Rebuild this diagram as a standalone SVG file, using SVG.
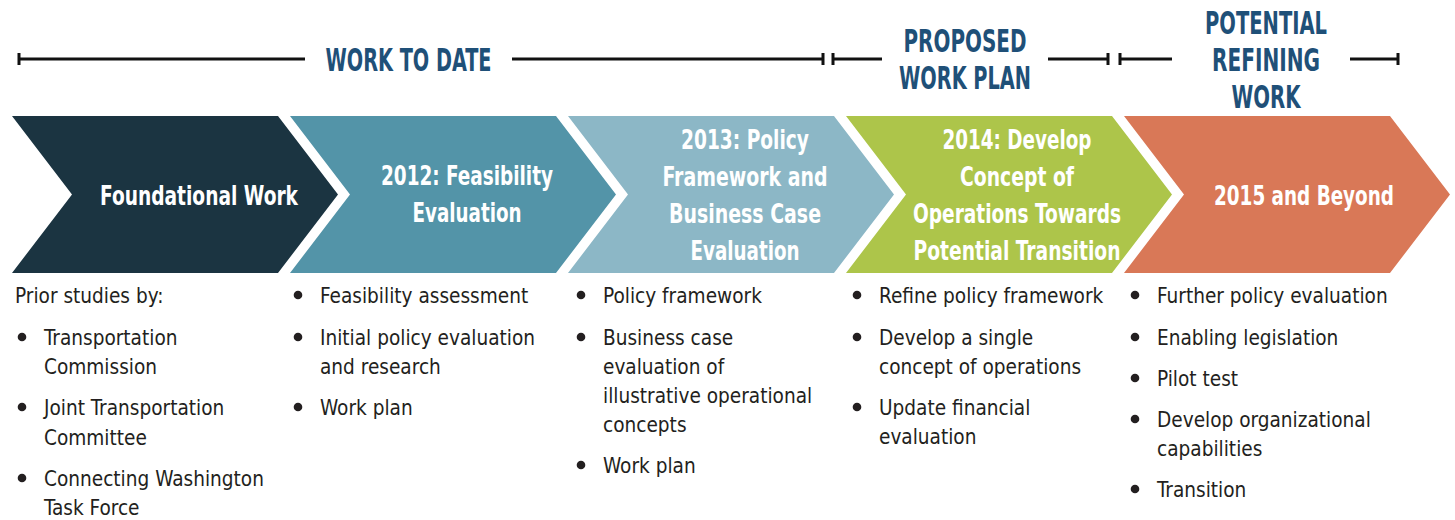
<svg xmlns="http://www.w3.org/2000/svg" width="1455" height="520" viewBox="0 0 1455 520">
<style>
.hdr{font-family:"Liberation Sans Narrow","DejaVu Sans Condensed","Liberation Sans",sans-serif;font-weight:bold;font-size:32px;fill:#1f5078;text-anchor:middle}
.ttl{font-family:"Liberation Sans Narrow","DejaVu Sans Condensed","Liberation Sans",sans-serif;font-weight:bold;font-size:26px;fill:#ffffff;text-anchor:middle}
.body{font-family:"DejaVu Sans Condensed","DejaVu Sans",sans-serif;font-size:20.6px;fill:#231f20}
.dot{fill:#231f20}
.tl{stroke:#111111;stroke-width:3;fill:none}
.c1{fill:#1b3441}.c2{fill:#5394a8}.c3{fill:#8cb7c6}.c4{fill:#adc54a}.c5{fill:#d97857}
</style>
<rect width="1455" height="520" fill="#ffffff"/>
<g id="timeline">
<path class="tl" d="M19 59H305M19 53V65"/>
<path class="tl" d="M512 59H823M823 53V65"/>
<path class="tl" d="M833 59H882M833 53V65"/>
<path class="tl" d="M1048 59H1108M1108 53V65"/>
<path class="tl" d="M1120 59H1172M1120 53V65"/>
<path class="tl" d="M1350 59H1398M1398 53V65"/>
<text class="hdr" x="408.5" y="71" textLength="166" lengthAdjust="spacingAndGlyphs">WORK TO DATE</text>
<text class="hdr" x="965" y="52" textLength="123" lengthAdjust="spacingAndGlyphs">PROPOSED</text>
<text class="hdr" x="965" y="89" textLength="132" lengthAdjust="spacingAndGlyphs">WORK PLAN</text>
<text class="hdr" x="1266" y="34" textLength="122" lengthAdjust="spacingAndGlyphs">POTENTIAL</text>
<text class="hdr" x="1266" y="71" textLength="108" lengthAdjust="spacingAndGlyphs">REFINING</text>
<text class="hdr" x="1266" y="108" textLength="69" lengthAdjust="spacingAndGlyphs">WORK</text>
</g>
<g id="foundational">
<polygon class="c1" points="12,116 278,116 338,194.5 278,273 12,273 72,194.5"/>
<text class="ttl" x="199" y="205" textLength="198" lengthAdjust="spacingAndGlyphs">Foundational Work</text>
<text class="body" x="15" y="303">Prior studies by:</text>
<circle class="dot" cx="22" cy="337" r="4.3"/>
<text class="body" x="44" y="345">Transportation</text>
<text class="body" x="44" y="374">Commission</text>
<circle class="dot" cx="22" cy="407" r="4.3"/>
<text class="body" x="44" y="415">Joint Transportation</text>
<text class="body" x="44" y="445">Committee</text>
<circle class="dot" cx="22" cy="478" r="4.3"/>
<text class="body" x="44" y="486">Connecting Washington</text>
<text class="body" x="44" y="515">Task Force</text>
</g>
<g id="feasibility">
<polygon class="c2" points="290,116 556,116 616,194.5 556,273 290,273 350,194.5"/>
<text class="ttl" x="467" y="185" textLength="172" lengthAdjust="spacingAndGlyphs">2012: Feasibility</text>
<text class="ttl" x="467" y="222" textLength="109" lengthAdjust="spacingAndGlyphs">Evaluation</text>
<circle class="dot" cx="298" cy="295" r="4.3"/>
<text class="body" x="320" y="303">Feasibility assessment</text>
<circle class="dot" cx="298" cy="337" r="4.3"/>
<text class="body" x="320" y="345">Initial policy evaluation</text>
<text class="body" x="320" y="374">and research</text>
<circle class="dot" cx="298" cy="407" r="4.3"/>
<text class="body" x="320" y="415">Work plan</text>
</g>
<g id="policy">
<polygon class="c3" points="568,116 834,116 894,194.5 834,273 568,273 628,194.5"/>
<text class="ttl" x="745" y="149" textLength="128" lengthAdjust="spacingAndGlyphs">2013: Policy</text>
<text class="ttl" x="745" y="186" textLength="165" lengthAdjust="spacingAndGlyphs">Framework and</text>
<text class="ttl" x="745" y="223" textLength="152" lengthAdjust="spacingAndGlyphs">Business Case</text>
<text class="ttl" x="745" y="260" textLength="109" lengthAdjust="spacingAndGlyphs">Evaluation</text>
<circle class="dot" cx="581" cy="295" r="4.3"/>
<text class="body" x="603" y="303">Policy framework</text>
<circle class="dot" cx="581" cy="337" r="4.3"/>
<text class="body" x="603" y="345">Business case</text>
<text class="body" x="603" y="374">evaluation of</text>
<text class="body" x="603" y="403">illustrative operational</text>
<text class="body" x="603" y="432">concepts</text>
<circle class="dot" cx="581" cy="465" r="4.3"/>
<text class="body" x="603" y="473">Work plan</text>
</g>
<g id="concept">
<polygon class="c4" points="846,116 1112,116 1172,194.5 1112,273 846,273 906,194.5"/>
<text class="ttl" x="1017" y="149" textLength="149" lengthAdjust="spacingAndGlyphs">2014: Develop</text>
<text class="ttl" x="1017" y="186" textLength="114" lengthAdjust="spacingAndGlyphs">Concept of</text>
<text class="ttl" x="1017" y="223" textLength="208" lengthAdjust="spacingAndGlyphs">Operations Towards</text>
<text class="ttl" x="1017" y="260" textLength="207" lengthAdjust="spacingAndGlyphs">Potential Transition</text>
<circle class="dot" cx="857" cy="295" r="4.3"/>
<text class="body" x="879" y="303">Refine policy framework</text>
<circle class="dot" cx="857" cy="337" r="4.3"/>
<text class="body" x="879" y="345">Develop a single</text>
<text class="body" x="879" y="374">concept of operations</text>
<circle class="dot" cx="857" cy="407" r="4.3"/>
<text class="body" x="879" y="415">Update financial</text>
<text class="body" x="879" y="444">evaluation</text>
</g>
<g id="beyond">
<polygon class="c5" points="1124,116 1390,116 1450,194.5 1390,273 1124,273 1184,194.5"/>
<text class="ttl" x="1304" y="205" textLength="180" lengthAdjust="spacingAndGlyphs">2015 and Beyond</text>
<circle class="dot" cx="1135" cy="295" r="4.3"/>
<text class="body" x="1157" y="303">Further policy evaluation</text>
<circle class="dot" cx="1135" cy="337" r="4.3"/>
<text class="body" x="1157" y="345">Enabling legislation</text>
<circle class="dot" cx="1135" cy="378" r="4.3"/>
<text class="body" x="1157" y="386">Pilot test</text>
<circle class="dot" cx="1135" cy="419" r="4.3"/>
<text class="body" x="1157" y="427">Develop organizational</text>
<text class="body" x="1157" y="456">capabilities</text>
<circle class="dot" cx="1135" cy="489" r="4.3"/>
<text class="body" x="1157" y="497">Transition</text>
</g>
</svg>
